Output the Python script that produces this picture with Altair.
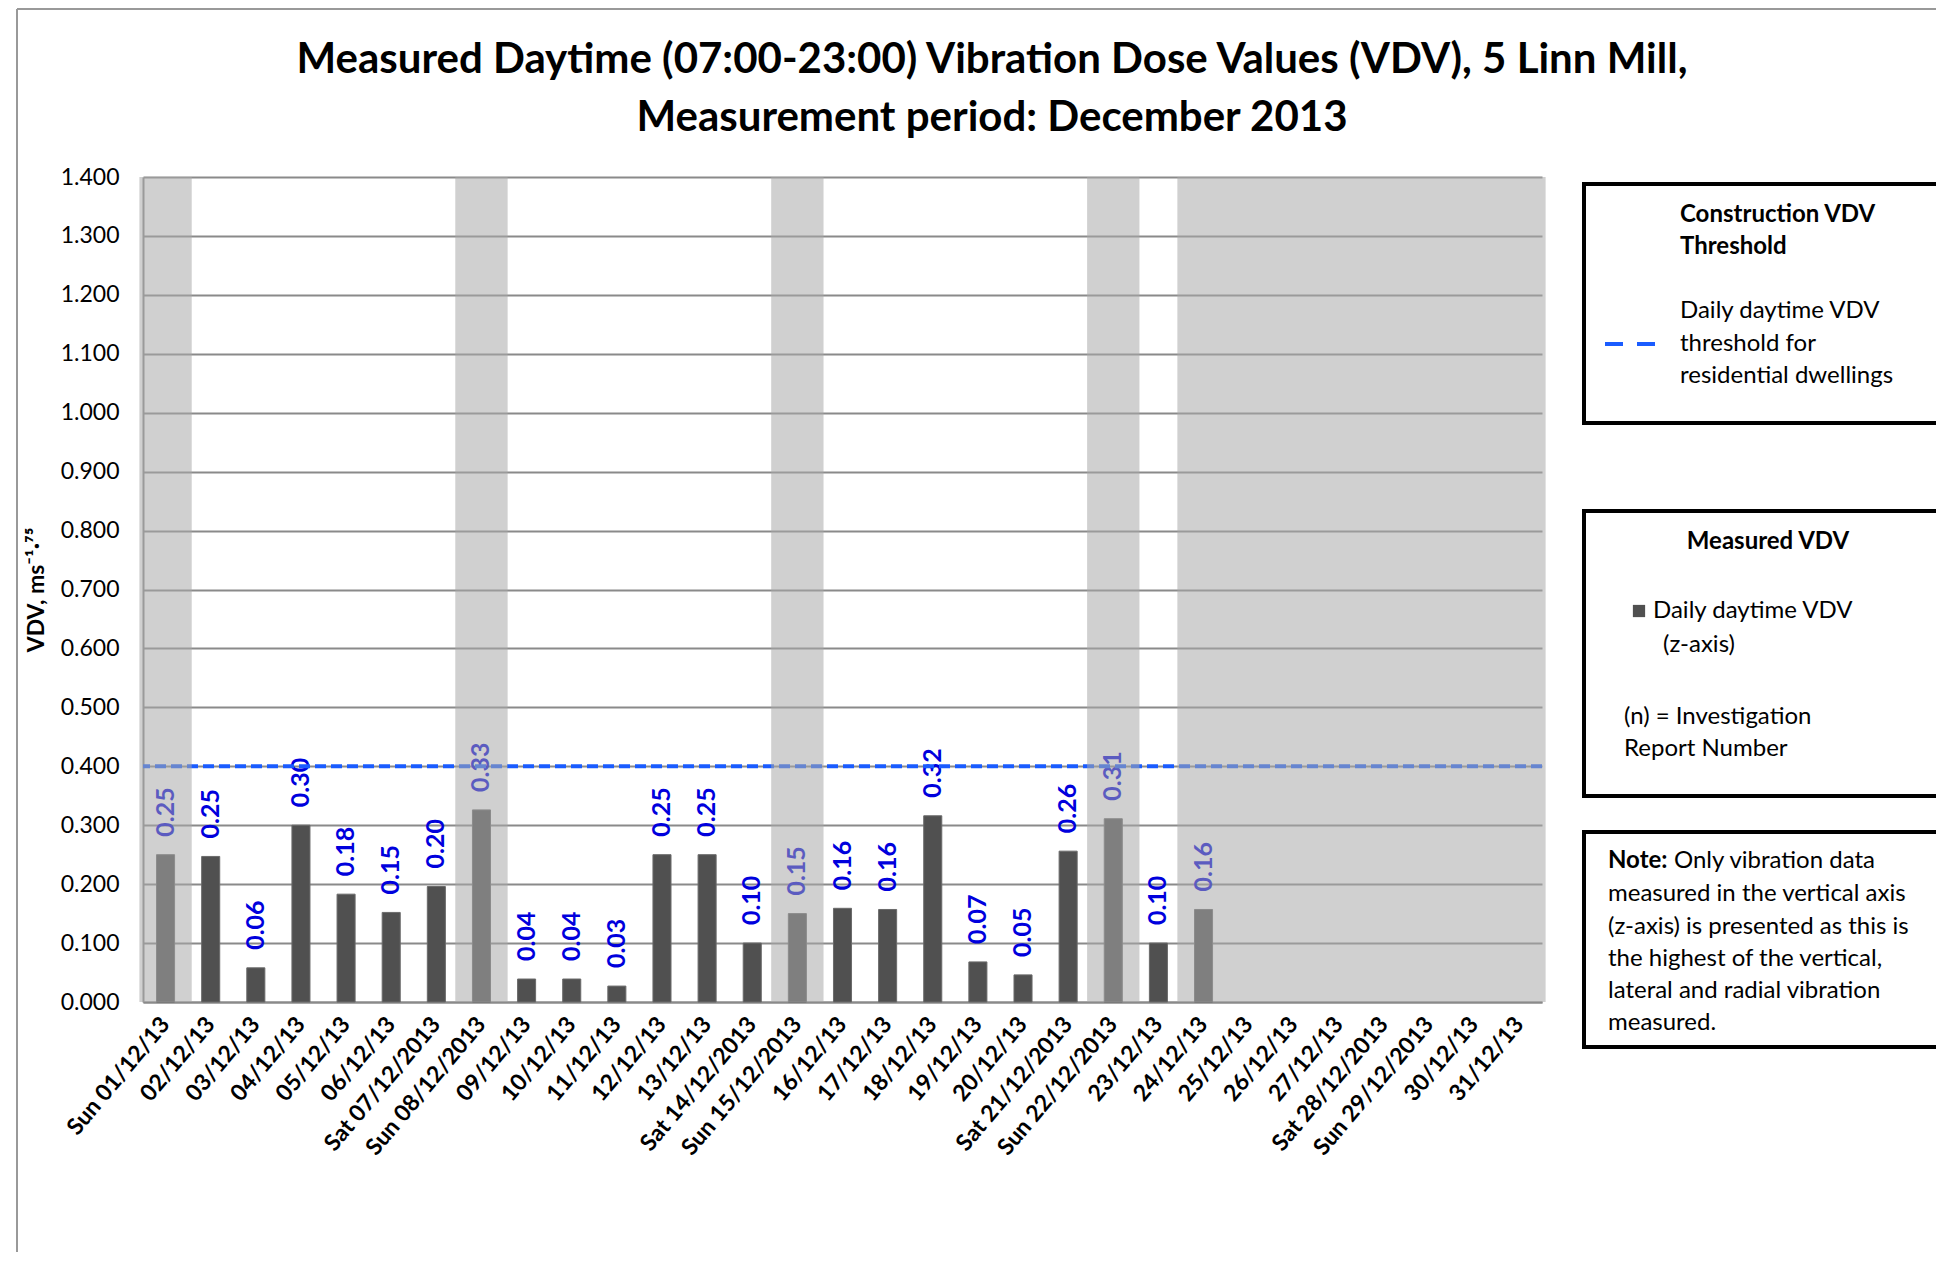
import altair as alt
import pandas as pd

# ---------------- data ----------------
days = ["Sun 01/12/13", "02/12/13", "03/12/13", "04/12/13", "05/12/13", "06/12/13",
        "Sat 07/12/2013", "Sun 08/12/2013", "09/12/13", "10/12/13", "11/12/13",
        "12/12/13", "13/12/13", "Sat 14/12/2013", "Sun 15/12/2013", "16/12/13",
        "17/12/13", "18/12/13", "19/12/13", "20/12/13", "Sat 21/12/2013",
        "Sun 22/12/2013", "23/12/13", "24/12/13", "25/12/13", "26/12/13",
        "27/12/13", "Sat 28/12/2013", "Sun 29/12/2013", "30/12/13", "31/12/13"]
vdv = [0.250, 0.247, 0.058, 0.300, 0.183, 0.152, 0.196, 0.326, 0.039, 0.039,
       0.027, 0.250, 0.250, 0.100, 0.150, 0.159, 0.157, 0.316, 0.068, 0.046,
       0.256, 0.311, 0.100, 0.157, None, None, None, None, None, None, None]
shaded_days = [0, 7, 14, 21, 23, 24, 25, 26, 27, 28, 29, 30]
threshold = 0.4
y_max = 1.4

title_lines = ["Measured Daytime (07:00-23:00) Vibration Dose Values (VDV), 5 Linn Mill,",
               "Measurement period: December 2013"]

# ---------------- tables ----------------
df = pd.DataFrame({"day": days, "vdv": vdv})
df_bars = df.dropna()

# contiguous runs of shaded days
runs = []
for d in shaded_days:
    if runs and runs[-1][1] == d:
        runs[-1][1] = d + 1
    else:
        runs.append([d, d + 1])
shade = pd.DataFrame({"start": [r[0] - 0.08 for r in runs],
                      "end": [r[1] + 0.08 for r in runs],
                      "top": [y_max] * len(runs)})

# ---------------- style ----------------
FONT = "Lato"
W, H = 1399, 825
OX, OY = 143, 177          # plot origin on page
BAR = "#505050"
LBL = "#0000dd"
THR = "#1a5cff"
GRID = "#8a8a8a"

xscale = alt.Scale(domain=days, paddingInner=0, paddingOuter=0)
yscale = alt.Scale(domain=[0, y_max], nice=False)

x_enc = alt.X("day:N", scale=xscale, sort=days, title=None,
              axis=alt.Axis(labelAngle=-50, labelFontSize=23, labelFontWeight="bold",
                            labelFont=FONT, labelColor="black", ticks=False,
                            labelPadding=18, domainColor=GRID, domainWidth=2,
                            labelOverlap=False, grid=False))
y_enc = alt.Y("vdv:Q", scale=yscale,
              title="VDV, ms⁻¹·⁷⁵",
              axis=alt.Axis(values=[round(i * 0.1, 1) for i in range(15)], format=".3f",
                            labelFontSize=23, labelFont=FONT, labelColor="black",
                            ticks=False, labelPadding=24, domainColor=GRID, domainWidth=2,
                            gridColor=GRID, gridWidth=2, titleFont=FONT, titleFontSize=23,
                            titleFontWeight="bold", titleColor="black", titlePadding=12))

bars = alt.Chart(df_bars).mark_bar(color=BAR, width={"band": 0.4},
                                   stroke="#6a6a6a", strokeWidth=1).encode(x=x_enc, y=y_enc)

labels = alt.Chart(df_bars).mark_text(
    angle=270, align="left", baseline="middle", dx=18, font=FONT, fontSize=25,
    fontWeight="bold", color=LBL
).encode(x=alt.X("day:N", scale=xscale, sort=days, axis=None),
         y=alt.Y("vdv:Q", scale=yscale),
         text=alt.Text("vdv:Q", format=".2f"))

thr = alt.Chart(pd.DataFrame({"t": [threshold]})).mark_rule(
    color=THR, strokeWidth=4, strokeDash=[11, 5]
).encode(y=alt.Y("t:Q", scale=yscale))

overlay = alt.Chart(shade).mark_rect(color="#a8a8a8", opacity=0.54).encode(
    x=alt.X("start:Q", scale=alt.Scale(domain=[0, len(days)], nice=False, zero=False), axis=None),
    x2="end:Q",
    y=alt.Y("top:Q", scale=yscale),
    y2=alt.datum(0),
)

one = pd.DataFrame({"k": [0]})


def txt(s, px, py, size=24, bold=False, align="left"):
    return alt.Chart(one).mark_text(
        align=align, baseline="middle", font=FONT, fontSize=size,
        fontWeight="bold" if bold else "normal", color="black"
    ).encode(x=alt.value(px - OX), y=alt.value(py - OY), text=alt.value(s))


def box(x0, y0, x1, y1):
    return alt.Chart(one).mark_rect(fillOpacity=0, stroke="black", strokeWidth=4).encode(
        x=alt.value(x0 - OX), x2=alt.value(x1 - OX), y=alt.value(y0 - OY), y2=alt.value(y1 - OY))


frame_l = alt.Chart(one).mark_rule(color="#999999", strokeWidth=2).encode(
    x=alt.value(17 - OX), y=alt.value(9 - OY), y2=alt.value(1300 - OY))
frame_t = alt.Chart(one).mark_rule(color="#999999", strokeWidth=2).encode(
    x=alt.value(17 - OX), x2=alt.value(1990 - OX), y=alt.value(9 - OY))

title1 = txt(title_lines[0], 992, 60, size=42, bold=True, align="center")
title2 = txt(title_lines[1], 992, 118, size=42, bold=True, align="center")

# legend box 1
b1 = box(1584, 184, 2000, 423)
leg_line = alt.Chart(one).mark_rule(color=THR, strokeWidth=4, strokeDash=[18, 14]).encode(
    x=alt.value(1605 - OX), x2=alt.value(1660 - OX), y=alt.value(344 - OY))
t1 = [txt("Construction VDV", 1680, 215, bold=True), txt("Threshold", 1680, 247, bold=True),
      txt("Daily daytime VDV", 1680, 311), txt("threshold for", 1680, 344),
      txt("residential dwellings", 1680, 376)]

# legend box 2
b2 = box(1584, 511, 2000, 796)
sq = alt.Chart(one).mark_square(color=BAR, opacity=1, size=150).encode(
    x=alt.value(1639 - OX), y=alt.value(611 - OY))
t2 = [txt("Measured VDV", 1768, 542, bold=True, align="center"),
      txt("Daily daytime VDV", 1653, 611), txt("(z-axis)", 1663, 645),
      txt("(n) = Investigation", 1624, 717), txt("Report Number", 1624, 749)]

# legend box 3
b3 = box(1584, 832, 2000, 1047)
t3 = [txt("Note:", 1608, 861, bold=True), txt("Only vibration data", 1674, 861),
      txt("measured in the vertical axis", 1608, 894),
      txt("(z-axis) is presented as this is", 1608, 927),
      txt("the highest of the vertical,", 1608, 959),
      txt("lateral and radial vibration", 1608, 991),
      txt("measured.", 1608, 1023)]

main = alt.layer(bars, labels, thr, overlay).resolve_scale(x="independent")

chart = alt.layer(
    main, frame_l, frame_t, title1, title2, b1, leg_line, *t1, b2, sq, *t2, b3, *t3
).properties(
    width=W, height=H,
    autosize=alt.AutoSizeParams(type="none"),
    padding={"left": OX - 8, "top": OY - 8, "right": 394, "bottom": 250},
    background="white",
).configure_view(stroke=None)

chart.save("out.html", embed_options={"renderer": "svg", "actions": False})
